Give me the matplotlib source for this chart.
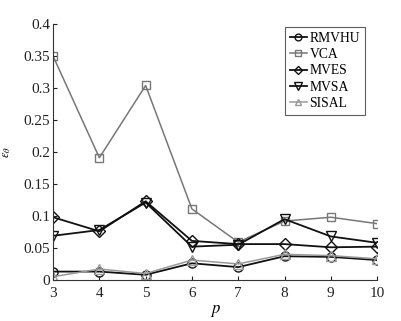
import matplotlib
matplotlib.use("Agg")
import matplotlib.pyplot as plt

plt.rcParams['font.family'] = ['Liberation Serif', 'DejaVu Serif']
plt.rcParams['mathtext.fontset'] = 'stix'

p = [3, 4, 5, 6, 7, 8, 9, 10]
rmvhu = [0.013, 0.013, 0.008, 0.026, 0.020, 0.037, 0.036, 0.031]
vca = [0.350, 0.191, 0.304, 0.111, 0.059, 0.092, 0.098, 0.088]
mves = [0.098, 0.076, 0.123, 0.061, 0.056, 0.056, 0.051, 0.052]
mvsa = [0.069, 0.078, 0.121, 0.052, 0.055, 0.095, 0.068, 0.058]
sisal = [0.005, 0.017, 0.010, 0.031, 0.025, 0.040, 0.038, 0.033]

xticks = [3, 4, 5, 6, 7, 8, 9, 10]
yticks = [0, 0.05, 0.1, 0.15, 0.2, 0.25, 0.3, 0.35, 0.4]
ytick_labels = ['0', '0.05', '0.1', '0.15', '0.2', '0.25', '0.3', '0.35', '0.4']

fig = plt.figure(figsize=(4.02, 3.21), dpi=100)
ax = fig.add_axes([0.132, 0.128, 0.806, 0.797])

black = '#111111'
gray = '#777777'
ms = 6.5
ax.plot(p, rmvhu, color=black, lw=1.3, marker='o', ms=ms, mfc='none', mec=black, mew=1.0, label='RMVHU')
ax.plot(p, vca, color=gray, lw=1.1, marker='s', ms=ms - 0.5, mfc='none', mec=gray, mew=1.0, label='VCA')
ax.plot(p, mves, color=black, lw=1.3, marker='D', ms=ms - 0.5, mfc='none', mec=black, mew=1.0, label='MVES')
ax.plot(p, mvsa, color=black, lw=1.3, marker='v', ms=ms + 0.5, mfc='none', mec=black, mew=1.0, label='MVSA')
ax.plot(p, sisal, color='#999999', lw=1.1, marker='^', ms=ms, mfc='none', mec='#999999', mew=1.0, label='SISAL')

ax.set_xlim(3, 10)
ax.set_ylim(0, 0.4)
ax.set_xticks(xticks)
ax.set_yticks(yticks)
ax.set_yticklabels(ytick_labels)
ax.tick_params(direction='in', length=3, labelsize=11, colors='#222222', width=0.8)
ax.tick_params(axis='x', pad=5)
ax.tick_params(axis='y', pad=2)
for s in ['top', 'right']:
    ax.spines[s].set_visible(False)
for s in ['left', 'bottom']:
    ax.spines[s].set_color('#333333')
    ax.spines[s].set_linewidth(0.8)

ax.set_xlabel(r'$p$', fontsize=12, labelpad=2)
ax.set_ylabel(r'$\varepsilon_\theta$', fontsize=9)
ax.yaxis.set_label_coords(-0.125, 0.5)

leg = ax.legend(loc='upper right', bbox_to_anchor=(0.97, 1.0), fontsize=9.8,
                frameon=True, fancybox=False, edgecolor='#333333',
                handlelength=1.3, handletextpad=0.15, borderpad=0.35,
                labelspacing=0.25, borderaxespad=0.2, markerscale=0.75)
leg.get_frame().set_linewidth(0.8)

fig.savefig('out.png', dpi=100)
